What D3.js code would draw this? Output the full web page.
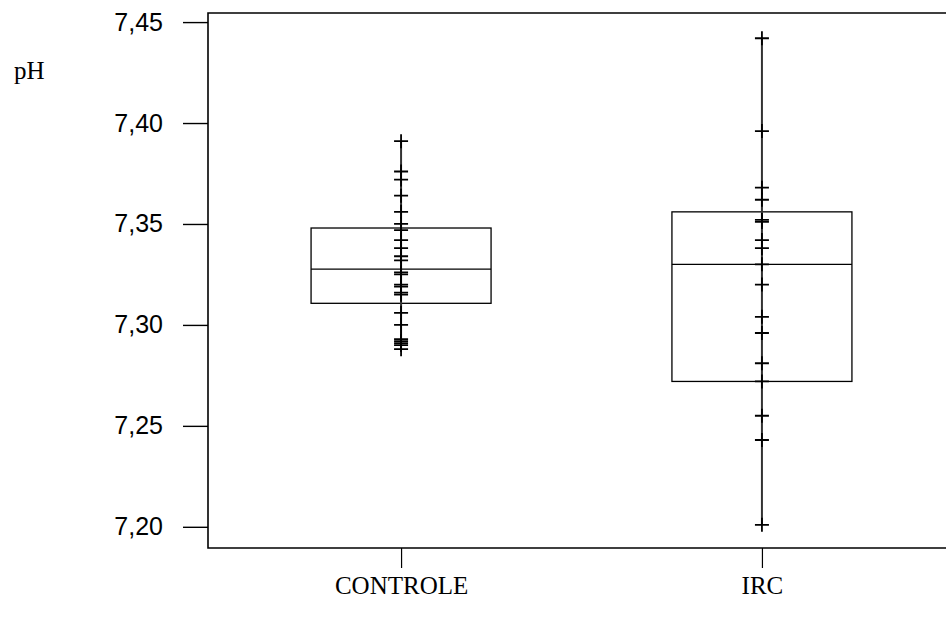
<!DOCTYPE html>
<html><head><meta charset="utf-8">
<script src="https://cdn.jsdelivr.net/npm/d3@7/dist/d3.min.js"></script>
<style>body{margin:0;background:#fff}svg{display:block}</style>
</head><body>
<svg id="c" width="946" height="625"></svg>
<script>
const categories = ["CONTROLE", "IRC"];
const controlePoints = [7.391,7.376,7.372,7.364,7.356,7.350,7.347,7.342,7.338,7.334,7.332,7.326,7.325,7.320,7.319,7.316,7.315,7.306,7.300,7.293,7.292,7.291,7.290,7.288];
const ircPoints = [7.442,7.396,7.368,7.362,7.352,7.351,7.342,7.338,7.330,7.320,7.304,7.296,7.281,7.272,7.255,7.243,7.201];
const boxQ1 = [7.3107, 7.272];
const boxMedian = [7.3276, 7.330];
const boxQ3 = [7.348, 7.356];
const yTicks = [7.20, 7.25, 7.30, 7.35, 7.40, 7.45];
const yLabel = "pH";

const series = [controlePoints, ircPoints];
const svg = d3.select("#c");
const W = 946;
const y = d3.scaleLinear().domain([7.1895, 7.4545]).range([548, 13]);
const x = d3.scalePoint().domain(categories).range([208, 955]).padding(0.535);
const plotLeft = 208, plotTop = y.range()[1], plotBottom = y.range()[0];
const loc = d3.formatLocale({decimal: ",", thousands: ".", grouping: [3], currency: ["", ""]});
const fmt = loc.format(".2f");

// y axis
const yAxis = d3.axisLeft(y).tickValues(yTicks).tickFormat(fmt).tickSize(25).tickPadding(20);
const gy = svg.append("g").attr("transform", `translate(${plotLeft},0)`).call(yAxis);
gy.select(".domain").remove();
gy.selectAll("line").attr("stroke", "#000").attr("stroke-width", 1.4);
gy.selectAll("text").attr("font-family", "Liberation Sans, Arial, sans-serif").attr("font-size", 25).attr("fill", "#000");

// x axis
const xAxis = d3.axisBottom(x).tickSize(20).tickPadding(0);
const gx = svg.append("g").attr("transform", `translate(0,${plotBottom})`).call(xAxis);
gx.select(".domain").remove();
gx.selectAll("line").attr("stroke", "#000").attr("stroke-width", 1.2);
gx.selectAll("text").attr("font-family", "Liberation Serif, Times New Roman, serif").attr("font-size", 25).attr("fill", "#000")
  .attr("y", 46).attr("dy", 0);

// frame
svg.append("path").attr("d", `M${W},${plotTop}H${plotLeft}V${plotBottom}H${W}`)
  .attr("fill", "none").attr("stroke", "#000").attr("stroke-width", 1.6);

// y label
svg.append("text").attr("x", 14).attr("y", 79).text(yLabel)
  .attr("font-family", "Liberation Serif, Times New Roman, serif").attr("font-size", 25);

const half = 90;
categories.forEach((c, i) => {
  const cx = x(c);
  const pts = series[i];
  const g = svg.append("g");
  g.append("rect").attr("x", cx - half).attr("y", y(boxQ3[i]))
    .attr("width", half * 2).attr("height", y(boxQ1[i]) - y(boxQ3[i]))
    .attr("fill", "none").attr("stroke", "#000").attr("stroke-width", 1.3);
  g.append("line").attr("x1", cx - half).attr("x2", cx + half)
    .attr("y1", y(boxMedian[i])).attr("y2", y(boxMedian[i]))
    .attr("stroke", "#000").attr("stroke-width", 1.3);
  g.append("line").attr("x1", cx).attr("x2", cx)
    .attr("y1", y(d3.max(pts))).attr("y2", y(d3.min(pts)))
    .attr("stroke", "#333").attr("stroke-width", 2);
  g.selectAll("path.pt").data(pts).join("path").attr("class", "pt")
    .attr("d", d => `M${cx - 7},${y(d)}H${cx + 7}M${cx},${y(d) - 7}V${y(d) + 7}`)
    .attr("stroke", "#000").attr("stroke-width", 1.8).attr("fill", "none");
});
</script>
</body></html>
